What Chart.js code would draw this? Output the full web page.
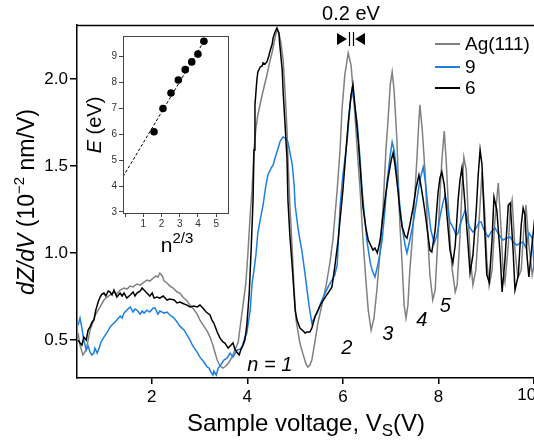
<!DOCTYPE html>
<html>
<head>
<meta charset="utf-8">
<script src="https://cdn.jsdelivr.net/npm/chart.js@4.4.0/dist/chart.umd.min.js"></script>
<style>
  html, body { margin: 0; padding: 0; background: #fff; overflow: hidden; width: 534px; height: 443px; }
  #main { position: absolute; left: 0; top: 0; }
  #inset { position: absolute; left: 80px; top: 28px; }
</style>
</head>
<body>
<canvas id="main" width="570" height="443"></canvas>
<canvas id="inset" width="160" height="232"></canvas>
<script>
// Espectros dZ/dV (resonancias de emisión de campo): Ag(111) e islas de 9 y 6 capas

// Ag(111), gris
const agV = [
  0.46,0.50,0.56,0.63,0.71,0.77,0.83,0.92,1.00,1.07,
  1.13,1.21,1.27,1.34,1.42,1.48,1.55,1.61,1.69,1.76,
  1.82,1.90,1.96,2.03,2.09,2.13,2.17,2.22,2.26,2.32,
  2.38,2.45,2.53,2.59,2.65,2.74,2.80,2.86,2.95,3.01,
  3.09,3.16,3.22,3.28,3.32,3.37,3.43,3.49,3.55,3.62,
  3.68,3.74,3.81,3.85,3.91,3.97,4.01,4.06,4.10,4.14,
  4.18,4.22,4.31,4.37,4.41,4.47,4.52,4.58,4.62,4.66,
  4.70,4.75,4.79,4.83,4.85,4.89,4.94,4.98,5.02,5.10,
  5.17,5.23,5.27,5.31,5.35,5.42,5.48,5.56,5.65,5.73,
  5.79,5.88,5.94,5.98,6.04,6.11,6.17,6.23,6.30,6.36,
  6.42,6.48,6.53,6.59,6.65,6.71,6.78,6.84,6.90,6.94,
  6.99,7.03,7.07,7.13,7.19,7.24,7.28,7.32,7.36,7.40,
  7.45,7.51,7.55,7.59,7.61,7.66,7.72,7.78,7.82,7.88,
  7.93,7.99,8.03,8.07,8.12,8.16,8.20,8.24,8.28,8.35,
  8.39,8.45,8.49,8.53,8.58,8.62,8.66,8.72,8.78,8.85,
  8.91,8.97,9.01,9.06,9.12,9.18,9.25,9.31,9.35,9.39,
  9.46,9.50,9.54,9.60,9.66,9.73,9.79,9.83,9.89,9.96,
  10.02,10.12
];
const agY = [
  0.540,0.471,0.414,0.443,0.557,0.603,0.649,0.690,0.730,0.747,
  0.759,0.776,0.764,0.787,0.799,0.793,0.810,0.805,0.822,0.816,
  0.828,0.845,0.839,0.856,0.868,0.862,0.885,0.868,0.839,0.828,
  0.810,0.799,0.776,0.770,0.747,0.724,0.701,0.684,0.649,0.615,
  0.580,0.552,0.517,0.471,0.431,0.385,0.351,0.339,0.351,0.374,
  0.402,0.443,0.489,0.575,0.701,0.828,0.989,1.218,1.362,1.592,
  1.718,1.793,1.908,1.977,2.023,2.098,2.155,2.236,2.282,2.264,
  2.213,2.109,1.925,1.707,1.546,1.276,1.017,0.787,0.615,0.483,
  0.414,0.362,0.345,0.356,0.385,0.500,0.603,0.701,0.816,0.948,
  1.075,1.362,1.592,1.822,2.023,2.149,2.080,1.879,1.592,1.362,
  1.075,0.845,0.672,0.557,0.626,0.787,1.017,1.264,1.592,1.747,
  1.966,2.040,1.937,1.649,1.172,0.931,0.701,0.626,0.701,0.902,
  1.075,1.362,1.552,1.764,1.851,1.707,1.460,1.075,0.874,0.730,
  0.787,1.103,1.333,1.534,1.701,1.534,1.305,1.075,0.920,0.776,
  0.816,1.103,1.362,1.552,1.477,1.218,0.989,0.816,0.902,1.190,
  1.466,1.218,0.960,0.810,0.902,1.190,1.402,1.132,0.902,0.833,
  1.046,1.247,1.305,1.017,0.856,0.902,1.161,1.276,1.046,0.874,
  0.960,1.190
];

// isla de 9 capas, azul
const nineV = [
  0.46,0.50,0.54,0.58,0.63,0.67,0.71,0.75,0.79,0.81,
  0.86,0.90,0.94,1.00,1.07,1.13,1.19,1.27,1.34,1.38,
  1.42,1.48,1.55,1.61,1.65,1.69,1.76,1.80,1.84,1.90,
  1.96,2.03,2.07,2.13,2.17,2.26,2.32,2.38,2.47,2.53,
  2.59,2.68,2.74,2.80,2.86,2.95,3.01,3.09,3.16,3.20,
  3.24,3.28,3.30,3.35,3.39,3.43,3.51,3.58,3.64,3.70,
  3.79,3.85,3.89,3.95,3.99,4.06,4.10,4.14,4.18,4.22,
  4.27,4.33,4.39,4.43,4.50,4.54,4.58,4.62,4.66,4.68,
  4.73,4.75,4.79,4.85,4.89,4.94,4.98,5.00,5.06,5.10,
  5.14,5.21,5.25,5.29,5.35,5.40,5.46,5.52,5.56,5.63,
  5.69,5.77,5.83,5.88,5.94,6.00,6.09,6.15,6.19,6.23,
  6.30,6.36,6.40,6.46,6.50,6.57,6.61,6.67,6.73,6.78,
  6.82,6.88,6.92,6.99,7.03,7.07,7.13,7.19,7.24,7.30,
  7.34,7.40,7.47,7.53,7.61,7.68,7.72,7.78,7.84,7.91,
  7.97,8.03,8.09,8.14,8.18,8.24,8.30,8.37,8.41,8.45,
  8.52,8.56,8.62,8.66,8.72,8.79,8.85,8.89,8.95,9.04,
  9.10,9.18,9.27,9.35,9.43,9.50,9.58,9.64,9.71,9.77,
  9.83,9.89,9.96,10.00,10.04
];
const nineY = [
  0.586,0.626,0.569,0.500,0.443,0.466,0.431,0.414,0.425,0.454,
  0.425,0.454,0.489,0.517,0.546,0.575,0.592,0.615,0.638,0.626,
  0.655,0.672,0.690,0.661,0.678,0.672,0.649,0.667,0.655,0.672,
  0.661,0.684,0.684,0.649,0.667,0.655,0.661,0.644,0.626,0.603,
  0.580,0.557,0.529,0.500,0.466,0.431,0.402,0.374,0.345,0.339,
  0.316,0.299,0.322,0.299,0.339,0.351,0.385,0.397,0.425,0.402,
  0.443,0.448,0.460,0.517,0.540,0.672,0.828,0.902,0.989,1.115,
  1.190,1.276,1.391,1.448,1.489,1.506,1.546,1.580,1.615,1.638,
  1.661,1.667,1.661,1.638,1.580,1.506,1.391,1.276,1.144,1.075,
  1.017,0.874,0.787,0.701,0.598,0.626,0.655,0.701,0.730,0.770,
  0.805,0.845,0.874,0.931,1.264,1.448,1.649,1.851,1.937,1.879,
  1.747,1.534,1.362,1.190,1.075,0.948,0.902,0.862,0.931,1.006,
  1.075,1.247,1.402,1.563,1.638,1.592,1.460,1.276,1.149,1.046,
  1.000,1.075,1.172,1.276,1.420,1.494,1.420,1.264,1.132,1.057,
  1.103,1.207,1.287,1.333,1.276,1.178,1.149,1.103,1.115,1.161,
  1.218,1.247,1.172,1.144,1.121,1.144,1.178,1.178,1.132,1.092,
  1.121,1.144,1.103,1.075,1.086,1.092,1.057,1.046,1.057,1.063,
  1.029,1.115,1.086,0.931,0.787
];

// isla de 6 capas, negro
const sixV = [
  0.46,0.50,0.54,0.58,0.63,0.67,0.71,0.75,0.79,0.83,
  0.88,0.92,0.96,1.00,1.04,1.09,1.13,1.17,1.21,1.27,
  1.34,1.38,1.42,1.48,1.55,1.61,1.65,1.69,1.76,1.80,
  1.84,1.90,1.96,2.01,2.05,2.11,2.17,2.24,2.32,2.38,
  2.47,2.53,2.59,2.68,2.74,2.80,2.88,2.95,3.01,3.07,
  3.14,3.22,3.26,3.30,3.37,3.43,3.49,3.53,3.60,3.64,
  3.70,3.74,3.78,3.83,3.87,3.91,3.95,3.99,4.04,4.08,
  4.12,4.14,4.16,4.20,4.22,4.27,4.31,4.33,4.37,4.41,
  4.45,4.47,4.52,4.54,4.58,4.62,4.66,4.68,4.73,4.75,
  4.79,4.83,4.85,4.89,4.94,4.98,5.00,5.04,5.10,5.17,
  5.21,5.25,5.31,5.35,5.38,5.42,5.48,5.54,5.63,5.69,
  5.77,5.83,5.90,6.00,6.11,6.17,6.21,6.25,6.32,6.38,
  6.42,6.48,6.53,6.59,6.63,6.67,6.72,6.78,6.82,6.88,
  6.94,7.01,7.05,7.09,7.15,7.19,7.24,7.30,7.34,7.40,
  7.47,7.53,7.59,7.63,7.68,7.72,7.78,7.82,7.86,7.93,
  7.99,8.03,8.07,8.12,8.18,8.24,8.30,8.35,8.41,8.45,
  8.49,8.53,8.60,8.66,8.72,8.79,8.83,8.87,8.91,8.97,
  9.01,9.06,9.12,9.16,9.22,9.29,9.33,9.39,9.46,9.50,
  9.56,9.60,9.67,9.73,9.77,9.81,9.85,9.89,9.96,10.02,
  10.12
];
const sixY = [
  0.500,0.483,0.471,0.517,0.500,0.557,0.575,0.603,0.615,0.672,
  0.718,0.747,0.764,0.770,0.753,0.782,0.776,0.759,0.787,0.747,
  0.770,0.753,0.770,0.741,0.759,0.776,0.753,0.770,0.782,0.799,
  0.787,0.770,0.753,0.770,0.741,0.747,0.741,0.753,0.730,0.736,
  0.730,0.713,0.718,0.707,0.701,0.690,0.695,0.690,0.701,0.684,
  0.661,0.644,0.615,0.598,0.546,0.511,0.489,0.483,0.454,0.466,
  0.483,0.448,0.431,0.414,0.448,0.471,0.500,0.586,0.770,1.017,
  1.305,1.592,1.851,1.994,2.040,2.069,2.075,2.092,2.086,2.098,
  2.132,2.155,2.201,2.236,2.270,2.293,2.264,2.195,2.052,1.925,
  1.736,1.546,1.305,1.103,0.920,0.759,0.672,0.615,0.569,0.552,
  0.540,0.546,0.546,0.569,0.598,0.638,0.672,0.707,0.747,0.770,
  0.805,0.920,1.075,1.362,1.747,1.908,1.966,1.851,1.649,1.420,
  1.264,1.144,1.075,1.040,1.017,1.029,1.000,1.075,1.172,1.305,
  1.420,1.534,1.575,1.506,1.362,1.247,1.149,1.098,1.086,1.161,
  1.264,1.374,1.448,1.391,1.305,1.230,1.103,1.017,1.006,1.132,
  1.345,1.431,1.466,1.391,1.207,1.017,0.943,1.046,1.305,1.420,
  1.489,1.362,1.115,0.885,0.989,1.247,1.448,1.592,1.506,1.115,
  0.874,0.833,1.075,1.322,1.247,0.989,0.776,0.960,1.276,1.287,
  1.017,0.787,0.874,1.161,1.259,1.218,0.989,0.862,1.057,1.218,
  1.132
];

const xTicks = [2, 4, 6, 8, 10];
const yTicks = [0.5, 1.0, 1.5, 2.0];

const seriesLabels = ['Ag(111)', '9', '6'];
const seriesColors = ['#808080', '#1b7fe3', '#000000'];

// etiquetas n = 1 ... 5 (posición en voltios / dZ/dV)
const levelLabels = ['n = 1', '2', '3', '4', '5'];
const levelV = [4.47, 6.08, 6.94, 7.65, 8.14];
const levelY = [0.356, 0.454, 0.534, 0.615, 0.695];

// recuadro: E frente a n^(2/3)
const insetN = [1.587, 2.080, 2.520, 2.924, 3.302, 3.659, 4.000, 4.327];
const insetE = [6.1, 7.0, 7.6, 8.1, 8.5, 8.8, 9.1, 9.6];
const fitN = [-0.115, 4.33];
const fitE = [4.36, 9.6];
const insetXTicks = [0, 1, 2, 3, 4, 5];
const insetYTicks = [3, 4, 5, 6, 7, 8, 9];

const FONT = "'Liberation Sans', Arial, sans-serif";

function toPoints(xs, ys) {
    if (xs.length !== ys.length) console.error('longitudes distintas', xs.length, ys.length);
    return xs.map((x, i) => ({ x: x, y: ys[i] }));
}

// Dibuja texto con tramos de distinta fuente (cursiva, sub/superíndice)
function drawRuns(ctx, runs, x, y, align) {
    let total = 0;
    runs.forEach(r => { ctx.font = r.font; r.w = ctx.measureText(r.text).width; total += r.w; });
    let cx = align === 'left' ? x : x - total / 2;
    ctx.textAlign = 'left';
    runs.forEach(r => {
        ctx.font = r.font;
        ctx.fillText(r.text, cx, y + (r.dy || 0));
        cx += r.w;
    });
}

const mainDecor = {
    id: 'mainDecor',
    afterDraw(chart) {
        const ctx = chart.ctx;
        const a = chart.chartArea;
        const xs = chart.scales.x, ys = chart.scales.y;
        ctx.save();

        // borde superior del marco
        ctx.strokeStyle = '#000';
        ctx.lineWidth = 1.5;
        ctx.beginPath();
        ctx.moveTo(a.left, a.top + 0.5);
        ctx.lineTo(chart.width, a.top + 0.5);
        ctx.stroke();

        ctx.fillStyle = '#000';

        // último rótulo del eje x, desplazado hacia dentro como en la figura
        ctx.font = '17px ' + FONT;
        ctx.textAlign = 'right';
        ctx.textBaseline = 'top';
        ctx.fillText(String(xTicks[xTicks.length - 1]), xs.getPixelForValue(10) + 2, a.bottom + 9);

        ctx.textBaseline = 'alphabetic';

        // título eje x
        drawRuns(ctx, [
            { text: 'Sample voltage, V', font: '24px ' + FONT },
            { text: 'S', font: '17px ' + FONT, dy: 5 },
            { text: '(V)', font: '24px ' + FONT }
        ], 306, 431);

        // título eje y
        ctx.save();
        ctx.translate(34, 202);
        ctx.rotate(-Math.PI / 2);
        drawRuns(ctx, [
            { text: 'dZ/dV', font: 'italic 23px ' + FONT },
            { text: ' (10', font: '23px ' + FONT },
            { text: '\u22122', font: '15px ' + FONT, dy: -10 },
            { text: ' nm/V)', font: '23px ' + FONT }
        ], 0, 0);
        ctx.restore();

        // leyenda
        const legendY = [44, 67, 88];
        seriesLabels.forEach((lab, i) => {
            ctx.strokeStyle = seriesColors[i];
            ctx.lineWidth = 2;
            ctx.beginPath();
            ctx.moveTo(435, legendY[i]);
            ctx.lineTo(460, legendY[i]);
            ctx.stroke();
            ctx.font = '19px ' + FONT;
            ctx.textAlign = 'left';
            ctx.textBaseline = 'middle';
            ctx.fillText(lab, 465, legendY[i] + 1);
        });

        // 0.2 eV con flechas
        ctx.textBaseline = 'middle';
        ctx.textAlign = 'center';
        ctx.font = '20px ' + FONT;
        ctx.fillText('0.2 eV', 351, 14);
        ctx.beginPath();
        ctx.moveTo(337, 33); ctx.lineTo(347, 39); ctx.lineTo(337, 45); ctx.closePath();
        ctx.moveTo(365, 33); ctx.lineTo(355, 39); ctx.lineTo(365, 45); ctx.closePath();
        ctx.fill();
        ctx.strokeStyle = '#000';
        ctx.lineWidth = 1.2;
        ctx.beginPath();
        ctx.moveTo(349.5, 32); ctx.lineTo(349.5, 46);
        ctx.moveTo(353.5, 32); ctx.lineTo(353.5, 46);
        ctx.stroke();

        // etiquetas n
        ctx.font = 'italic 20px ' + FONT;
        levelLabels.forEach((t, i) => {
            ctx.fillText(t, xs.getPixelForValue(levelV[i]), ys.getPixelForValue(levelY[i]));
        });
        ctx.restore();
    }
};

const axisCommon = {
    grid: { drawOnChartArea: false, drawTicks: true, color: '#000', lineWidth: 1.5 },
    border: { display: true, color: '#000', width: 1.5 }
};

new Chart(document.getElementById('main'), {
    type: 'line',
    data: {
        datasets: [
            { label: seriesLabels[0], data: toPoints(agV, agY), borderColor: seriesColors[0], order: 3 },
            { label: seriesLabels[1], data: toPoints(nineV, nineY), borderColor: seriesColors[1], order: 2 },
            { label: seriesLabels[2], data: toPoints(sixV, sixY), borderColor: seriesColors[2], order: 1 }
        ]
    },
    options: {
        responsive: false,
        animation: false,
        events: [],
        datasets: { line: { borderWidth: 1.5, pointRadius: 0, tension: 0, fill: false } },
        layout: { padding: { top: 25, right: 17, left: 0, bottom: 0 } },
        plugins: { legend: { display: false }, tooltip: { enabled: false } },
        scales: {
            x: {
                type: 'linear',
                min: 0.437,
                max: 10.395,
                afterBuildTicks: s => { s.ticks = xTicks.map(v => ({ value: v })); },
                afterFit: s => { s.height = 65; },
                ticks: { font: { size: 17, family: FONT }, color: '#000', padding: 3, maxRotation: 0, autoSkip: false,
                         callback: v => (v === 10 ? '' : String(v)) },
                grid: Object.assign({}, axisCommon.grid, { tickLength: 6 }),
                border: axisCommon.border
            },
            y: {
                type: 'linear',
                min: 0.282,
                max: 2.31,
                afterBuildTicks: s => { s.ticks = yTicks.map(v => ({ value: v })); },
                afterFit: s => { s.width = 77; },
                ticks: { font: { size: 17, family: FONT }, color: '#000', padding: 2, autoSkip: false,
                         callback: v => v.toFixed(1) },
                grid: Object.assign({}, axisCommon.grid, { tickLength: 7 }),
                border: axisCommon.border
            }
        }
    },
    plugins: [mainDecor]
});

// ---------- recuadro ----------
const insetDecor = {
    id: 'insetDecor',
    afterDraw(chart) {
        const ctx = chart.ctx;
        const a = chart.chartArea;
        ctx.save();
        ctx.strokeStyle = '#444';
        ctx.lineWidth = 1;
        ctx.strokeRect(a.left + 0.5, a.top + 0.5, a.right - a.left, a.bottom - a.top);
        ctx.fillStyle = '#000';
        ctx.textBaseline = 'alphabetic';
        ctx.save();
        ctx.translate(21, 97);
        ctx.rotate(-Math.PI / 2);
        drawRuns(ctx, [
            { text: 'E', font: 'italic 20px ' + FONT },
            { text: ' (eV)', font: '20px ' + FONT }
        ], 0, 0);
        ctx.restore();
        drawRuns(ctx, [
            { text: 'n', font: '21px ' + FONT },
            { text: '2/3', font: '15px ' + FONT, dy: -9 }
        ], 97, 224);
        ctx.restore();
    }
};

const insetAxis = {
    grid: { drawOnChartArea: false, drawTicks: true, tickLength: 4, color: '#444', lineWidth: 1 },
    border: { display: true, color: '#444', width: 1 }
};

new Chart(document.getElementById('inset'), {
    type: 'scatter',
    data: {
        datasets: [
            { data: toPoints(insetN, insetE), pointRadius: 3.8, backgroundColor: '#000', borderColor: '#000', borderWidth: 0 },
            { data: toPoints(fitN, fitE), showLine: true, pointRadius: 0, borderColor: '#000', borderWidth: 1, borderDash: [3, 2] }
        ]
    },
    options: {
        responsive: false,
        animation: false,
        events: [],
        layout: { padding: { top: 8, right: 12, left: 0, bottom: 0 } },
        plugins: { legend: { display: false }, tooltip: { enabled: false } },
        scales: {
            x: {
                type: 'linear',
                min: -0.115,
                max: 5.65,
                afterBuildTicks: s => { s.ticks = insetXTicks.map(v => ({ value: v })); },
                afterFit: s => { s.height = 47; },
                ticks: { font: { size: 10, family: FONT }, color: '#333', padding: 1, maxRotation: 0, autoSkip: false,
                         callback: v => (v === 0 ? '' : String(v)) },
                grid: insetAxis.grid,
                border: insetAxis.border
            },
            y: {
                type: 'linear',
                min: 2.96,
                max: 9.8,
                afterBuildTicks: s => { s.ticks = insetYTicks.map(v => ({ value: v })); },
                afterFit: s => { s.width = 43; },
                ticks: { font: { size: 10, family: FONT }, color: '#333', padding: 2, autoSkip: false,
                         callback: v => String(v) },
                grid: insetAxis.grid,
                border: insetAxis.border
            }
        }
    },
    plugins: [insetDecor]
});
</script>
</body>
</html>
